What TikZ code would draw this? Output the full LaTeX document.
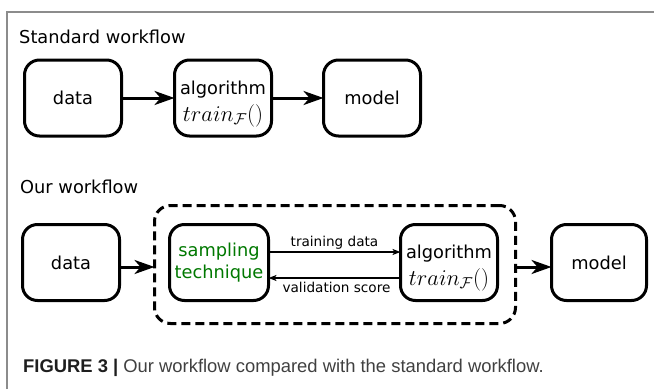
\documentclass[tikz,border=0pt]{standalone}
\usepackage{fix-cm}
\usepackage{fontspec}
\setmainfont{DejaVu Sans}
\newfontfamily\capfont{Liberation Sans}
\usetikzlibrary{arrows.meta}

\definecolor{framegray}{gray}{0.55}
\definecolor{samplegreen}{RGB}{0,120,0}
\definecolor{captext}{RGB}{64,64,64}
\definecolor{capdark}{RGB}{30,30,30}

\tikzset{
  stagebox/.style={draw=black, line width=3pt, rounded corners=15pt,
    minimum width=97pt, minimum height=76pt, inner sep=0pt, outer sep=0pt,
    font=\fontsize{17.8}{22}\selectfont, align=center},
  groupbox/.style={draw=black, line width=3pt, dash pattern=on 9pt off 5pt,
    rounded corners=16pt, minimum width=361pt, minimum height=118pt,
    inner sep=0pt, outer sep=0pt},
  flow/.style={line width=3pt, -{Stealth[length=20pt,width=14pt,inset=6pt]}},
  feedback/.style={line width=1.3pt, -{Stealth[length=8pt,width=6pt,inset=2pt]}},
  heading/.style={anchor=base west, inner sep=0pt, font=\fontsize{17.8}{22}\selectfont},
  edgelabel/.style={inner sep=0pt, font=\fontsize{13.6}{16}\selectfont},
  textline/.style={anchor=base, inner sep=0pt},
  nametext/.style={textline, font=\fontsize{17.8}{22}\selectfont},
  mathtext/.style={textline, font=\fontsize{22.5}{27}\selectfont},
}

\begin{document}
\begin{tikzpicture}[x=1pt, y=-1pt]
  \useasboundingbox (0,0) rectangle (654,389);

  % outer frame (left and top edges only)
  \draw[framegray, line width=1.5pt] (7,389) -- (7,12) -- (654,12);

  % ---- standard workflow ----
  \node[heading] (titleA) at (19,43) {Standard workflow};

  \node[stagebox] (data1) at (73,98) {data};
  \node[stagebox] (alg1) at (223,98) {};
  \node[nametext] (alg1name) at ([yshift=4pt]alg1.center) {algorithm};
  \node[mathtext] (alg1math) at ([yshift=-23pt]alg1.center) {$train_{\mathcal{F}}()$};
  \node[stagebox] (model1) at (372,98) {model};

  \draw[flow] (data1) -- (alg1);
  \draw[flow] (alg1) -- (model1);

  % ---- our workflow ----
  \node[heading] (titleB) at (20,193) {Our workflow};

  \node[stagebox] (data2) at (71,262.5) {data};
  \node[groupbox] (group) at (335,264.5) {};
  \node[stagebox, minimum width=99pt, text=samplegreen] (samp) at (219,262.5) {sampling\\technique};
  \node[stagebox] (alg2) at (449,262.5) {};
  \node[nametext] (alg2name) at ([yshift=4pt]alg2.center) {algorithm};
  \node[mathtext] (alg2math) at ([yshift=-23pt]alg2.center) {$train_{\mathcal{F}}()$};
  \node[stagebox, minimum width=95pt] (model2) at (599,262.5) {model};

  \draw[flow] (data2.east |- 0,267) -- (group.west |- 0,267);
  \draw[flow] (group.east |- 0,267) -- (model2.west |- 0,267);

  \draw[feedback] ([yshift=10.5pt]samp.east) -- ([yshift=10.5pt]alg2.west)
    node[midway, above=2pt, edgelabel] (lblA) {training data};
  \draw[feedback] ([yshift=-15.5pt]alg2.west) -- ([yshift=-15.5pt]samp.east)
    node[midway, below=4pt, edgelabel, xshift=2pt] (lblB) {validation score};

  % ---- caption ----
  \node[anchor=base west, inner sep=0pt, text=captext,
        font=\capfont\fontsize{18.4}{22}\selectfont] (caption) at (23,372)
    {{\bfseries\color{capdark}FIGURE 3 |} Our workflow compared with the standard workflow.};
\end{tikzpicture}
\end{document}
